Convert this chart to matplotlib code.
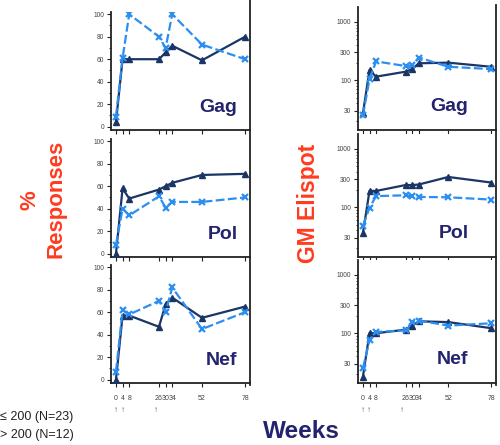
import numpy as np
import matplotlib
matplotlib.use('Agg')
import matplotlib.pyplot as plt
import matplotlib.transforms as mtransforms
from matplotlib.lines import Line2D
from matplotlib.ticker import FixedLocator, NullFormatter, LogLocator

plt.rcParams['font.family'] = ['Liberation Sans', 'DejaVu Sans']

weeks = [0, 4, 8, 26, 30, 34, 52, 78]
boost_weeks = [0, 4, 24]
antigens = ['Gag', 'Pol', 'Nef']
group_labels = ['\u2264 200 (N=23)', '> 200 (N=12)']

# % responses, dark = group 1, light = group 2
resp_low = {
    'Gag': [4, 60, 60, 60, 66, 72, 59, 80],
    'Pol': [0, 58, 49, 57, 60, 63, 70, 71],
    'Nef': [0, 57, 57, 47, 67, 73, 55, 65],
}
resp_high = {
    'Gag': [9, 61, 100, 80, 70, 100, 73, 60],
    'Pol': [8, 40, 34, 51, 41, 46, 46, 50],
    'Nef': [7, 62, 58, 70, 60, 82, 45, 60],
}
# GM Elispot
elis_low = {
    'Gag': [27, 149, 115, 140, 155, 195, 200, 170],
    'Pol': [36, 190, 190, 240, 240, 245, 330, 265],
    'Nef': [18, 100, 100, 115, 135, 160, 155, 122],
}
elis_high = {
    'Gag': [25, 104, 210, 175, 180, 245, 170, 155],
    'Pol': [48, 98, 155, 160, 155, 150, 148, 135],
    'Nef': [25, 75, 105, 112, 155, 165, 135, 148],
}

W, H = 500, 445
DARK = '#1b3566'
LIGHT = '#2b8ef0'
NAVY = '#23236e'
RED = '#ff3b1f'

fig = plt.figure(figsize=(W / 100, H / 100), dpi=100)


def ax_at(left, top, w, h):
    return fig.add_axes([left / W, 1 - (top + h) / H, w / W, h / H])


def fx(x):
    return x / W


def fy(y):
    return 1 - y / H


def style(ax, bottom):
    for s in ['top', 'right']:
        ax.spines[s].set_visible(False)
    for s in ['left', 'bottom']:
        ax.spines[s].set_linewidth(1.3)
        ax.spines[s].set_color('#222222')
    ax.set_xlim(-3, 81)
    ax.set_xticks(weeks)
    ax.tick_params(axis='x', length=3, width=0.8, direction='out',
                   labelsize=5, pad=6, colors='#222222', labelcolor='#444444')
    ax.tick_params(axis='y', which='major', length=3, width=0.8,
                   labelsize=4.8, pad=2, colors='#222222', labelcolor='#444444')
    ax.tick_params(axis='y', which='minor', length=1.8, width=0.6, colors='#222222')
    if not bottom:
        ax.set_xticklabels([])


def draw(ax, low, high):
    ax.plot(weeks, low, color=DARK, lw=1.6, marker='^', ms=4.2, zorder=3)
    ax.plot(weeks, high, color=LIGHT, lw=1.6, ls=(0, (4, 1.5)), marker='x',
            ms=4.2, mew=1.6, zorder=4)


def boosts(ax):
    tr = mtransforms.blended_transform_factory(ax.transData, fig.transFigure)
    for b in boost_weeks:
        ax.text(b, fy(410), '\u2191', transform=tr, ha='center', va='center',
                fontsize=6, color='#555555')


left_tops = [12, 139, 265]
right_tops = [7, 134, 260]

for i, name in enumerate(antigens):
    bottom = i == 2
    ax = ax_at(111, left_tops[i], 139, 118)
    draw(ax, resp_low[name], resp_high[name])
    ax.set_ylim(-3, 102)
    ax.set_yticks([0, 20, 40, 60, 80, 100])
    ax.yaxis.set_minor_locator(FixedLocator([10, 30, 50, 70, 90]))
    style(ax, bottom)
    ax.text(0.91, 0.12, name, transform=ax.transAxes, ha='right', va='bottom',
            fontsize=14, fontweight='bold', color=NAVY)
    if bottom:
        boosts(ax)

    ax = ax_at(358, right_tops[i], 138, 123)
    draw(ax, elis_low[name], elis_high[name])
    ax.set_yscale('log')
    ax.set_ylim(14, 1800)
    ax.yaxis.set_major_locator(FixedLocator([30, 100, 300, 1000]))
    ax.set_yticklabels(['30', '100', '300', '1000'])
    ax.yaxis.set_minor_locator(LogLocator(base=10, subs=np.arange(2, 10)))
    ax.yaxis.set_minor_formatter(NullFormatter())
    style(ax, bottom)
    ax.text(0.80, 0.12, name, transform=ax.transAxes, ha='right', va='bottom',
            fontsize=14, fontweight='bold', color=NAVY)
    if bottom:
        boosts(ax)

# column frame lines
fig.add_artist(Line2D([fx(250), fx(250)], [fy(0), fy(385)], color='#222222', lw=1.3))
fig.add_artist(Line2D([fx(496), fx(496)], [fy(5), fy(385)], color='#222222', lw=1.3))

fig.text(fx(30), fy(200), '%', rotation=90, ha='center', va='center',
         fontsize=16, fontweight='bold', color=RED)
fig.text(fx(56), fy(199), 'Responses', rotation=90, ha='center', va='center',
         fontsize=16, fontweight='bold', color=RED)
fig.text(fx(309), fy(203), 'GM Elispot', rotation=90, ha='center', va='center',
         fontsize=16.5, fontweight='bold', color=RED)
fig.text(fx(301), fy(432), 'Weeks', ha='center', va='center',
         fontsize=17.5, fontweight='bold', color=NAVY)

fig.text(fx(0), fy(417), group_labels[0], ha='left', va='center',
         fontsize=9, color='#222222')
fig.text(fx(0), fy(435), group_labels[1], ha='left', va='center',
         fontsize=9, color='#222222')

fig.savefig('out.png', dpi=100)
